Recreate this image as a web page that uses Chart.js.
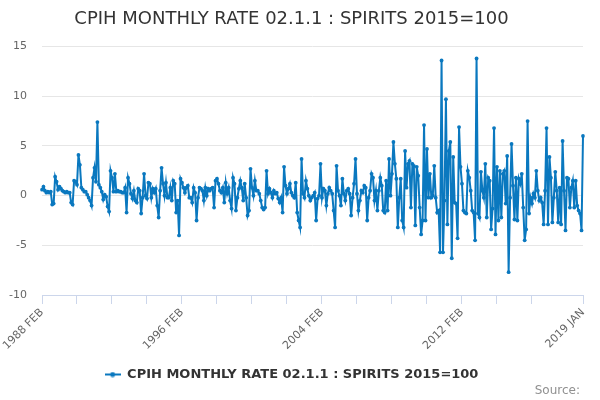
<!DOCTYPE html>
<html>
<head>
<meta charset="utf-8">
<script src="https://cdn.jsdelivr.net/npm/chart.js@4.4.0/dist/chart.umd.min.js"></script>
<style>
  html, body { margin: 0; padding: 0; background: #fff; }
</style>
</head>
<body>
<canvas id="grafico" width="600" height="400"></canvas>
<script>
const titulo = 'CPIH MONTHLY RATE 02.1.1 : SPIRITS 2015=100';
const meses = ['JAN', 'FEB', 'MAR', 'APR', 'MAY', 'JUN', 'JUL', 'AUG', 'SEP', 'OCT', 'NOV', 'DEC'];
const tickLabels = ['1988 FEB', '1996 FEB', '2004 FEB', '2012 FEB', '2019 JAN'];
const yTicks = [-10, -5, 0, 5, 10, 15];

// taxas mensais (%)
// 1988 FEB - 1992 OCT
const taxas1 = [0.6, 0.9, 0.5, 0.3, 0.4, 0.3, 0.4, -0.9, -0.8, 1.9, 1.4, 0.6, 0.9, 0.7, 0.5, 0.4, 0.3, 0.4, 0.3, 0.3,
  -0.7, -0.9, 1.5, 1.4, 1.1, 4.1, 3.1, 0.8, 0.6, 0.4, 0.4, 0.1, -0.2, -0.5, -1.0, 1.8, 2.8, 1.4, 7.4, 1.1,
  0.8, 0.4, -0.4, 0.1, -0.1, -1.1, -1.6, 2.5, 1.8, 0.4, 2.2, 0.4, 0.5, 0.4, 0.4, 0.3, 0.3];
// 1992 NOV - 1998 MAR
const taxas2 = [0.8, -1.7, 1.8, 1.2, 0.2, -0.3, 0.5, -0.5, -0.7, 0.7, 0.5, -1.8, -0.2, 2.2, 0, -0.3, 1.3, 1.2, -0.2, 0.7,
  0.3, 0.7, -1.0, -2.2, 0.5, 2.8, 1.2, 0, 1.3, -0.2, -0.2, 0.8, -0.5, 1.5, 1.2, -1.7, -0.5, -4.0, 1.7, 1.3,
  0.8, 0.3, 0.8, 1.0, -0.2, -0.2, -0.7, 0.8, 0.3, -2.5, -0.2, 0.8, 0.7, 0.5, -0.5, 0.8, 0, 0.7, 0.5, 0.7,
  0.8, -1.2, 1.5, 1.7, 1.2];
// 1998 APR - 2003 AUG
const taxas3 = [0.5, 0.3, 0.8, -0.7, 1.3, 0.2, 0.8, -0.5, -1.3, 1.8, 1.2, -1.5, -0.2, 0.7, 1.5, 0.8, -0.5, 1.2, -0.2, -2.0,
  -1.5, 2.7, 0.8, 0, 1.5, 0.5, 0.5, 0.2, -0.5, -1.2, -1.4, -1.2, 2.5, 0.2, 0.7, 0.3, -0.2, 0.5, 0.2, 0.3,
  -0.3, -0.7, -0.2, -1.7, 2.9, 1.0, 0.2, 0.7, 1.2, 0.3, 0, -0.2, 1.3, -1.7, -2.5, -3.2, 3.7, 0.2, -0.2, 1.5,
  0.7, 0, -0.5, -0.2, 0];
// 2003 SEP - 2009 JAN
const taxas4 = [0.3, -2.5, -0.3, 0, 3.2, -0.2, 0.7, 0.5, -1.0, 0.2, 0.8, 0.5, 0.2, -1.5, -3.2, 3.0, 0.5, 0, -1.0, 1.7,
  0.2, -0.5, 0.5, 0.7, 0.2, -2.0, -0.2, 1.2, 3.7, 0.2, -1.5, -0.5, 0.5, 0.3, 1.0, 0.8, -2.5, -0.2, 0.5, 2.2,
  1.8, -0.5, 0.5, -1.5, 0.5, 1.8, 1.0, -1.5, -1.7, 1.5, -1.5, 3.7, 0, 2.2, 5.4, 3.2, 1.7, -3.2, -0.2, 1.7,
  -2.5, -3.2, 4.5, 0.8, 3.2];
// 2009 FEB - 2014 JAN
const taxas5 = [3.5, -1.2, 3.2, 3.0, -3.0, 2.9, 2.0, -1.2, -3.9, -2.5, 7.1, -2.5, 4.7, -0.2, 2.2, -0.2, 0, 3.0, -0.2, -1.7,
  -1.5, -5.7, 13.6, -5.7, -0.5, 9.7, -2.9, 4.5, 5.4, -6.3, 3.9, -0.7, -0.8, -4.3, 6.9, 2.9, 1.2, -1.5, -1.7, -1.8,
  2.5, 1.8, 0.5, -1.5, -1.7, -4.5, 13.8, -1.8, -2.2, 2.4, 0.5, -0.2, 3.2, -2.2, 1.8, 1.5, -3.4, -1.3, 6.8, -3.9];
// 2014 FEB - 2019 JAN
const taxas6 = [2.9, -2.5, 2.5, -2.2, 2.2, 2.5, -0.8, 4.0, -7.7, -0.2, 5.2, 1.0, -2.4, 1.8, -2.5, 1.7, 1.2, 2.2, -1.2, -4.5,
  -3.4, 7.5, -1.8, -0.2, -0.8, 0.2, -0.2, 2.5, 0.5, -0.5, -0.2, -0.7, -2.9, 0.5, 6.8, -2.9, 3.9, 1.8, -2.7, -0.2,
  2.4, 0.5, -2.7, 0.8, -2.9, 5.5, 0.5, -3.5, 1.8, 1.7, -1.2, 0.8, 1.5, -1.2, 1.5, -1.0, -1.5, -1.8, -3.5, 6.0];

const taxas = [].concat(taxas1, taxas2, taxas3, taxas4, taxas5, taxas6);

// rotulos mensais a partir de 1988 FEB
const rotulos = taxas.map((_, i) => {
  const m = 1 + i;
  return (1988 + Math.floor(m / 12)) + ' ' + meses[m % 12];
});

const azul = '#0a78bf';
Chart.defaults.font.family = '"DejaVu Sans", sans-serif';
Chart.defaults.color = '#666';

// simbolo da legenda: linha com ponto
const simbolo = document.createElement('canvas');
simbolo.width = 16;
simbolo.height = 6;
const sctx = simbolo.getContext('2d');
sctx.strokeStyle = azul;
sctx.fillStyle = azul;
sctx.lineWidth = 2;
sctx.beginPath();
sctx.moveTo(0, 3);
sctx.lineTo(16, 3);
sctx.stroke();
sctx.beginPath();
sctx.arc(8, 3, 2.5, 0, Math.PI * 2);
sctx.fill();

const creditos = {
  id: 'creditos',
  afterDraw(chart) {
    const c = chart.ctx;
    c.save();
    c.font = '12px "DejaVu Sans", sans-serif';
    c.fillStyle = '#909090';
    c.textAlign = 'right';
    c.textBaseline = 'alphabetic';
    c.fillText('Source:', 580, 394);
    c.restore();
  }
};

const ctx = document.getElementById('grafico').getContext('2d');

const myChart = new Chart(ctx, {
  type: 'line',
  data: {
    labels: rotulos,
    datasets: [{
      label: titulo,
      data: taxas,
      borderColor: azul,
      backgroundColor: azul,
      borderWidth: 2,
      pointRadius: 1.9,
      pointBorderWidth: 0,
      pointHoverRadius: 0,
      tension: 0
    }]
  },
  options: {
    responsive: false,
    animation: false,
    layout: { padding: { left: 0, right: 17, top: 0, bottom: 9 } },
    plugins: {
      title: {
        display: true,
        text: titulo,
        color: '#333',
        font: { size: 18, weight: 'normal' },
        padding: { top: 9, bottom: 16 }
      },
      legend: {
        position: 'bottom',
        labels: {
          usePointStyle: true,
          pointStyle: simbolo,
          pointStyleWidth: 16,
          color: '#333',
          font: { size: 13, weight: 'bold' },
          padding: 10
        }
      },
      tooltip: { enabled: false }
    },
    scales: {
      x: {
        ticks: {
          autoSkip: false,
          maxRotation: 45,
          minRotation: 45,
          padding: 2,
          font: { size: 11 },
          color: '#666',
          callback(v) {
            const l = this.getLabelForValue(v);
            return tickLabels.includes(l) ? l : '';
          }
        },
        grid: {
          drawOnChartArea: false,
          tickLength: 9,
          color: (c) => ((c.index % 24 === 0 && c.index <= 336) || c.index === taxas.length - 1) ? '#ccd6eb' : 'rgba(0,0,0,0)'
        },
        border: { color: '#ccd6eb', width: 1 },
        afterFit(s) { s.height = 63; }
      },
      y: {
        min: yTicks[0],
        max: yTicks[yTicks.length - 1],
        afterBuildTicks(s) { s.ticks = yTicks.map(v => ({ value: v })); },
        ticks: { padding: 15, font: { size: 11 }, color: '#666' },
        grid: {
          drawTicks: false,
          color: (c) => c.tick && c.tick.value === yTicks[0] ? 'rgba(0,0,0,0)' : '#e6e6e6'
        },
        border: { display: false },
        afterFit(s) { s.width = 42; }
      }
    }
  },
  plugins: [creditos]
});
</script>
</body>
</html>
